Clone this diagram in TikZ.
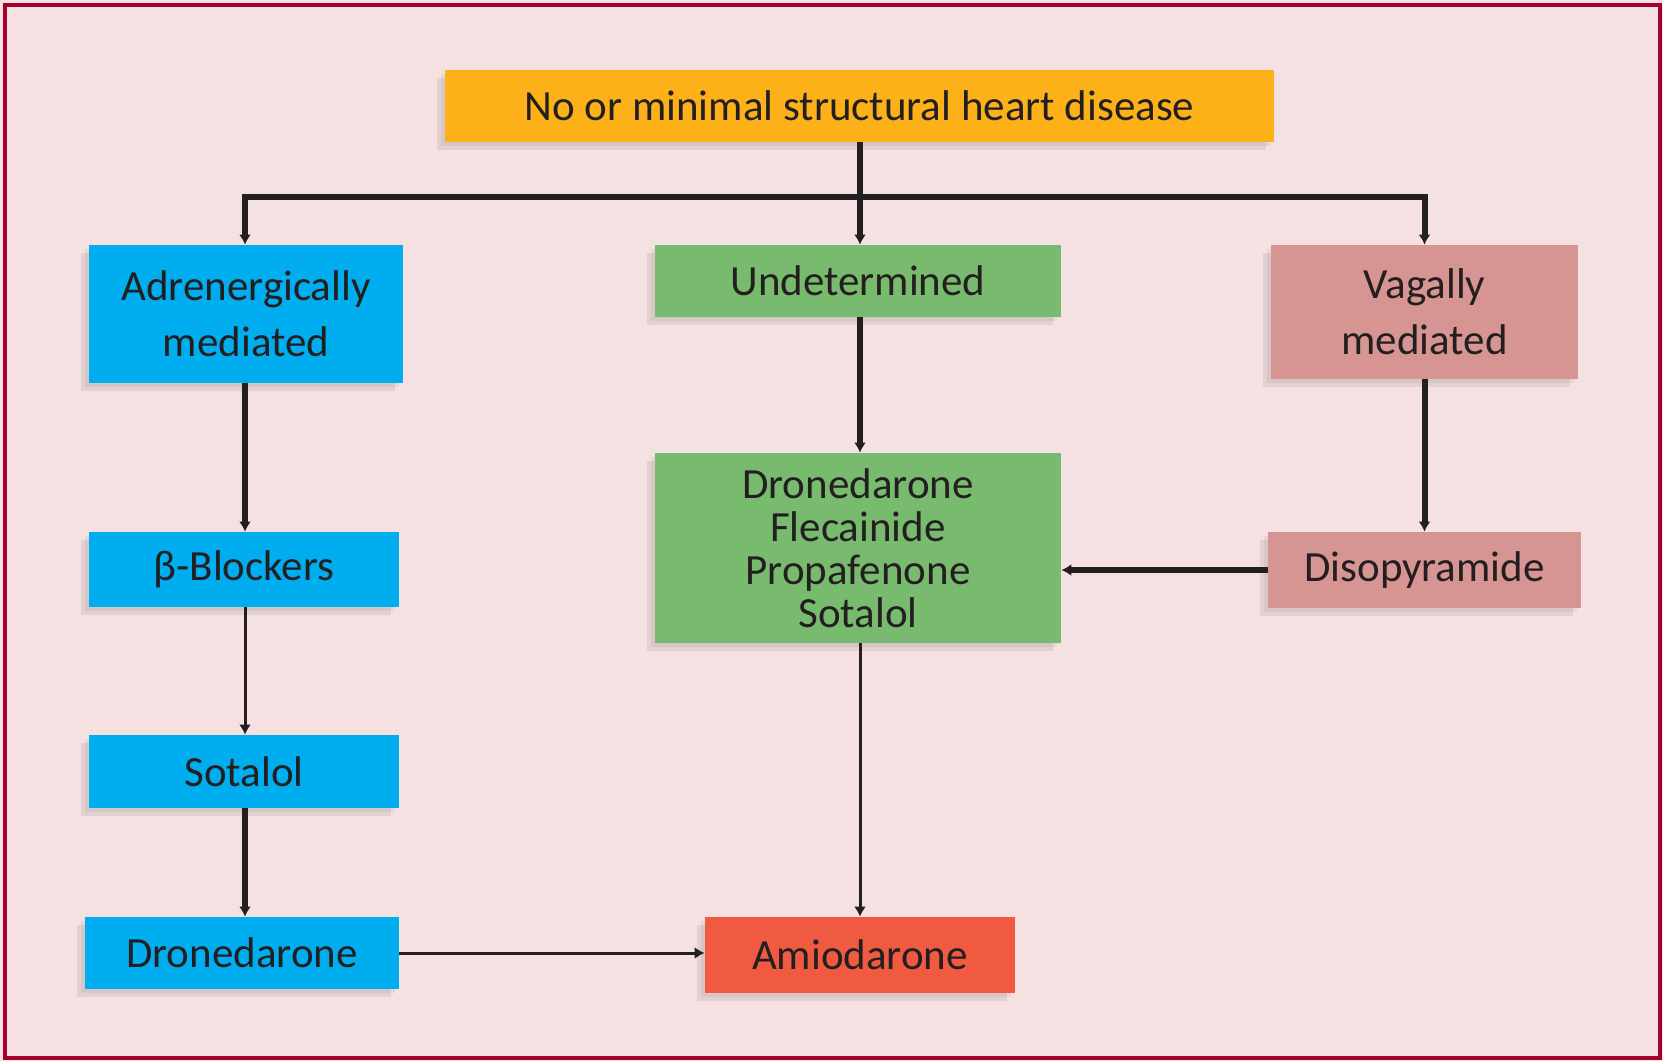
\documentclass[tikz,border=0pt]{standalone}
\usepackage{fontspec}
\setmainfont{Carlito}
\usetikzlibrary{arrows.meta,shadows}
\definecolor{bgpink}{HTML}{F5E1E1}
\definecolor{frame}{HTML}{A6002F}
\definecolor{txtdark}{HTML}{231F20}
\definecolor{orangebox}{HTML}{FDB119}
\definecolor{bluebox}{HTML}{00ADEE}
\definecolor{greenbox}{HTML}{78BB6E}
\definecolor{rosebox}{HTML}{D69592}
\definecolor{redbox}{HTML}{F05A40}

\begin{document}
\begin{tikzpicture}[x=0.5pt,y=-0.5pt]
                % define styles
\tikzset{box/.style={rectangle,
                       inner sep=0,
                       align=center,
                       text=txtdark,
                       font=\fontsize{21.5}{28}\selectfont,
                       general shadow={shadow xshift=-4pt,
                                       shadow yshift=-4pt,
                                       fill=black,
                                       opacity=0.07},
                       general shadow={shadow xshift=-2pt,
                                       shadow yshift=-2pt,
                                       fill=black,
                                       opacity=0.05},
                       },
         link/.style={draw=txtdark,
                       line width=3pt,
                       -{Latex[length=5pt,width=6pt]},
                       },
         thinlink/.style={draw=txtdark,
                       line width=1.5pt,
                       -{Latex[length=5pt,width=6pt]},
                       }
}

% background and frame
\fill[bgpink] (0,0) rectangle (1663,1061);
\draw[frame,line width=2pt] (5,5) rectangle (1660,1058);

% nodes
\node[box,fill=orangebox,minimum width=414.5pt,minimum height=36pt] (top)   at (859.5,106) {No or minimal structural heart disease};
\node[box,fill=bluebox,minimum width=157pt,minimum height=69pt]     (adr)   at (246,314)   {Adrenergically\\mediated};
\node[box,fill=greenbox,minimum width=203pt,minimum height=36pt]    (und)   at (858,281)   {Undetermined};
\node[box,fill=rosebox,minimum width=153.5pt,minimum height=67pt]   (vag)   at (1424.5,312) {Vagally\\mediated};
\node[box,fill=bluebox,minimum width=155pt,minimum height=37.5pt]   (beta)  at (244,569.5) {β-Blockers};
\node[box,fill=greenbox,minimum width=203pt,minimum height=95pt,
      font=\fontsize{21.5}{21.5}\selectfont]                        (drugs) at (858,548)   {Dronedarone\\Flecainide\\Propafenone\\Sotalol};
\node[box,fill=rosebox,minimum width=156.5pt,minimum height=38pt]   (diso)  at (1424.5,570) {Disopyramide};
\node[box,fill=bluebox,minimum width=155pt,minimum height=36.5pt]   (sot)   at (244,771.5) {Sotalol};
\node[box,fill=bluebox,minimum width=157pt,minimum height=36pt]     (dro)   at (242,953)   {Dronedarone};
\node[box,fill=redbox,minimum width=155pt,minimum height=38pt]      (ami)   at (860,955)   {Amiodarone};

% branch points
\coordinate (bus)  at (860,197);
\coordinate (lcol) at (245,0);
\coordinate (mcol) at (860,0);

% connectors
\draw[link] (mcol |- top.south) -- (mcol |- und.north);
\draw[link] (bus) -| (lcol |- adr.north);
\draw[link] (bus) -| (vag.north);
\draw[link] (lcol |- adr.south) -- (lcol |- beta.north);
\draw[thinlink] (lcol |- beta.south) -- (lcol |- sot.north);
\draw[link] (lcol |- sot.south) -- (lcol |- dro.north);
\draw[thinlink] (dro.east) -- (dro.east -| ami.west);
\draw[link] (mcol |- und.south) -- (mcol |- drugs.north);
\draw[thinlink] (mcol |- drugs.south) -- (mcol |- ami.north);
\draw[link] (vag.south) -- (diso.north);
\draw[link] (diso.west) -- (diso.west -| drugs.east);

\end{tikzpicture}
\end{document}
